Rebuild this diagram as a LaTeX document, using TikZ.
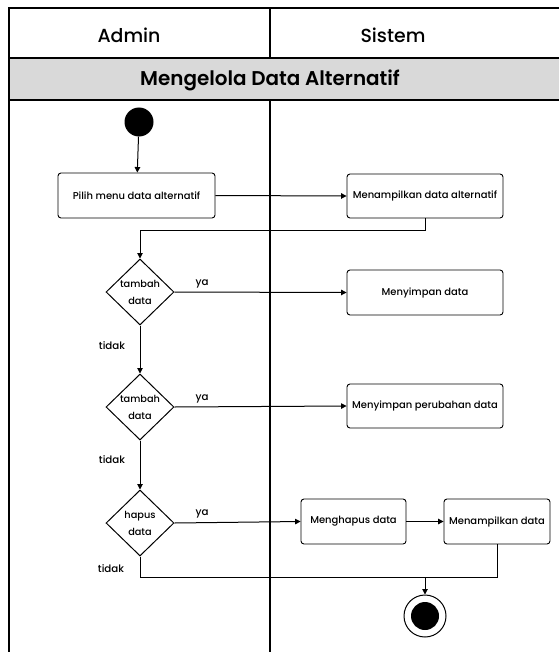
\documentclass[tikz,border=0pt]{standalone}
\usepackage{fontspec}
\setmainfont{Poppins}[UprightFont=*-Medium]
\newfontfamily\titlefont{Poppins}[UprightFont=*-SemiBold]
\usetikzlibrary{shapes.geometric,arrows.meta}
\begin{document}
\begin{tikzpicture}[x=1bp,y=-1bp,
  lane/.style={line width=1.2bp},
  flow/.style={line width=1bp},
  arr/.style={flow,-{Triangle[length=5.5bp,width=5.5bp]}},
  act/.style={draw,line width=0.9bp,rounded corners=3bp,fill=white,
    inner sep=0pt,align=center,font=\fontsize{10}{12}\selectfont},
  choice/.style={draw,diamond,line width=1bp,inner sep=0pt,align=center,
    minimum width=68bp,minimum height=66bp,
    font=\fontsize{9.8}{17}\selectfont},
  lbl/.style={font=\fontsize{10.3}{12}\selectfont,inner sep=0pt}]
\useasboundingbox (0,0) rectangle (559,652);

% swimlane frame and header
\fill[gray!30] (9,58) rectangle (559,100);
\draw[lane] (559,8) -- (9,8) -- (9,652);
\draw[lane] (9,58) -- (559,58);
\draw[lane] (9,100) -- (559,100);
\draw[lane] (270,8) -- (270,58);
\draw[lane] (270,100) -- (270,652);
\node[font=\fontsize{19}{22}\selectfont] (hadmin) at (129,35) {Admin};
\node[font=\fontsize{19}{22}\selectfont] (hsistem) at (393,35) {Sistem};
\node[font=\titlefont\fontsize{20}{22}\selectfont] (title) at (270,80) {Mengelola Data Alternatif};

% activities
\node[circle,fill=black,minimum size=29bp,inner sep=0pt] (start) at (139,122) {};
\node[act,minimum width=157bp,minimum height=45bp] (a1) at (136.5,195.5) {Pilih menu data alternatif};
\node[act,minimum width=156bp,minimum height=44bp] (s1) at (425,196) {Menampilkan data alternatif};
\node[choice] (d1) at (140,292) {tambah\\data};
\node[act,minimum width=156bp,minimum height=45bp] (s2) at (425,292.5) {Menyimpan data};
\node[choice] (d2) at (140,407) {tambah\\data};
\node[act,minimum width=156bp,minimum height=44bp] (s3) at (425,406) {Menyimpan perubahan data};
\node[choice] (d3) at (140,523) {hapus\\data};
\node[act,minimum width=105bp,minimum height=45bp] (s4) at (353.5,521.5) {Menghapus data};
\node[act,minimum width=106bp,minimum height=45bp] (s5) at (497,521.5) {Menampilkan data};
\node[circle,draw,line width=1bp,minimum size=42bp,inner sep=0pt] (end) at (425,616) {};
\node[circle,fill=black,minimum size=28bp,inner sep=0pt] (endin) at (end.center) {};

% connectors
\draw[arr] (start) -- (a1);
\draw[arr] (a1.east) -- (s1.west);
\draw[arr] (s1.south) -- ++(0,12) -| (d1.north);
\draw[arr] (d1.east) -- (s2.west);
\draw[arr] (d1.south) -- (d2.north);
\draw[arr] (d2.east) -- (s3.west);
\draw[arr] (d2.south) -- (d3.north);
\draw[arr] (d3.east) -- (s4.west);
\draw[arr] (s4.east) -- (s5.west);
\coordinate (m) at (425,577);
\draw[flow] (d3.south) |- (m);
\draw[flow] (s5.south) |- (m);
\draw[arr] (m) -- (end.north);

% guard labels
\node[lbl] (ya1) at (202,284) {ya};
\node[lbl] (ya2) at (202,399) {ya};
\node[lbl] (ya3) at (202,514) {ya};
\node[lbl] (t1) at (112,346) {tidak};
\node[lbl] (t2) at (112,460) {tidak};
\node[lbl] (t3) at (111,569) {tidak};
\end{tikzpicture}
\end{document}
